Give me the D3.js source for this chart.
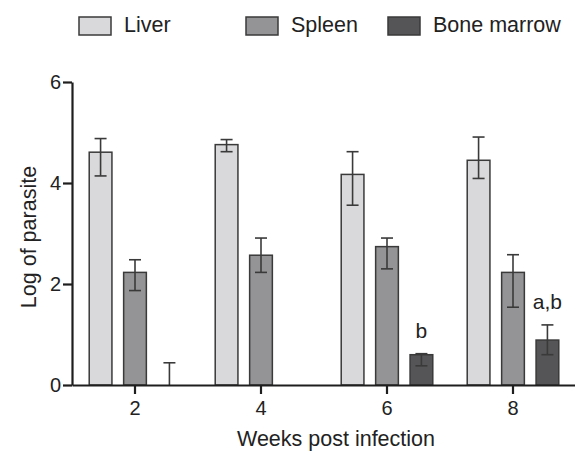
<!DOCTYPE html>
<html lang="en">
<head>
<meta charset="UTF-8">
<title>Log of parasite by week</title>
<script src="https://d3js.org/d3.v7.min.js"></script>
<style>
  body { margin: 0; background: #fff; }
  text { font-family: "Liberation Sans", Arial, sans-serif; fill: #222; }
</style>
</head>
<body>
<div id="chart"></div>
<script>
// Data
const weeks = ["2", "4", "6", "8"];
const series = ["Liver", "Spleen", "Bone marrow"];
const liver = [4.61, 4.76, 4.17, 4.45];
const liverLo = [4.14, 4.62, 3.56, 4.09];
const liverHi = [4.88, 4.86, 4.62, 4.91];
const spleen = [2.23, 2.57, 2.74, 2.23];
const spleenLo = [1.87, 2.23, 2.30, 1.54];
const spleenHi = [2.48, 2.91, 2.91, 2.58];
const marrow = [0, 0, 0.60, 0.89];
const marrowLo = [0, 0, 0.38, 0.60];
const marrowHi = [0.44, 0, 0.62, 1.19];
const marrowNotes = ["", "", "b", "a,b"];
const yTicks = [0, 2, 4, 6];

const colors = { "Liver": "#d9d9db", "Spleen": "#949496", "Bone marrow": "#555557" };
const edge = "#3a3a3a";

const W = 575, H = 452;
const svg = d3.select("#chart").append("svg")
  .attr("width", W).attr("height", H);

const x0 = d3.scaleBand().domain(weeks).range([72, 576]);
const x1 = d3.scaleBand().domain(series).range([0, x0.bandwidth()])
  .paddingInner(0.34).paddingOuter(0.5);
const y = d3.scaleLinear().domain([0, 6]).range([385, 82]);

// Build rows for drawing
const table = {
  "Liver": { v: liver, lo: liverLo, hi: liverHi },
  "Spleen": { v: spleen, lo: spleenLo, hi: spleenHi },
  "Bone marrow": { v: marrow, lo: marrowLo, hi: marrowHi }
};
const rows = [];
weeks.forEach((w, i) => {
  series.forEach(s => {
    rows.push({ week: w, s, v: table[s].v[i], lo: table[s].lo[i], hi: table[s].hi[i],
                note: s === "Bone marrow" ? marrowNotes[i] : "" });
  });
});

const cx = d => x0(d.week) + x1(d.s) + x1.bandwidth() / 2;

// Bars
svg.append("g").selectAll("rect")
  .data(rows.filter(d => d.v > 0))
  .join("rect")
  .attr("x", d => x0(d.week) + x1(d.s))
  .attr("y", d => y(d.v))
  .attr("width", x1.bandwidth())
  .attr("height", d => y(0) - y(d.v))
  .attr("fill", d => colors[d.s])
  .attr("stroke", edge)
  .attr("stroke-width", 1.5);

// Error bars
const eb = svg.append("g").attr("stroke", edge).attr("stroke-width", 1.6).attr("fill", "none");
const withErr = rows.filter(d => d.hi > 0);
eb.selectAll("line.v").data(withErr).join("line").attr("class", "v")
  .attr("x1", cx).attr("x2", cx)
  .attr("y1", d => y(d.lo)).attr("y2", d => y(d.hi));
eb.selectAll("line.top").data(withErr).join("line").attr("class", "top")
  .attr("x1", d => cx(d) - 6).attr("x2", d => cx(d) + 6)
  .attr("y1", d => y(d.hi)).attr("y2", d => y(d.hi));
eb.selectAll("line.bot").data(withErr.filter(d => d.lo > 0)).join("line").attr("class", "bot")
  .attr("x1", d => cx(d) - 6).attr("x2", d => cx(d) + 6)
  .attr("y1", d => y(d.lo)).attr("y2", d => y(d.lo));

// Significance letters
svg.append("g").selectAll("text")
  .data(rows.filter(d => d.note))
  .join("text")
  .attr("x", cx)
  .attr("y", d => y(d.hi) - 16)
  .attr("text-anchor", "middle")
  .style("font-size", "21px")
  .text(d => d.note);

// Axes
const yAxis = svg.append("g")
  .attr("transform", "translate(72,0)")
  .call(d3.axisLeft(y).tickValues(yTicks).tickFormat(d3.format("d"))
    .tickSize(9).tickSizeOuter(0).tickPadding(2));
const xAxis = svg.append("g")
  .attr("transform", `translate(0,${y(0)})`)
  .call(d3.axisBottom(x0).tickSize(9).tickSizeOuter(0).tickPadding(7));
[yAxis, xAxis].forEach(g => {
  g.selectAll("path, line").attr("stroke", "#1e1e1e").attr("stroke-width", 2.2);
  g.selectAll("text").style("font-size", "20px").attr("fill", "#222");
});

// Axis titles
svg.append("text")
  .attr("x", 336).attr("y", 446)
  .attr("text-anchor", "middle")
  .style("font-size", "21.5px")
  .text("Weeks post infection");
svg.append("text")
  .attr("transform", "translate(36,237) rotate(-90)")
  .attr("text-anchor", "middle")
  .style("font-size", "21.5px")
  .text("Log of parasite");

// Legend
const legendX = [79, 246, 388];
const lg = svg.append("g").selectAll("g").data(series).join("g")
  .attr("transform", (d, i) => `translate(${legendX[i]},17)`);
lg.append("rect")
  .attr("width", 32).attr("height", 18)
  .attr("fill", d => colors[d]).attr("stroke", edge).attr("stroke-width", 1.5);
lg.append("text")
  .attr("x", 45).attr("y", 15)
  .style("font-size", "21.5px")
  .text(d => d);
</script>
</body>
</html>
